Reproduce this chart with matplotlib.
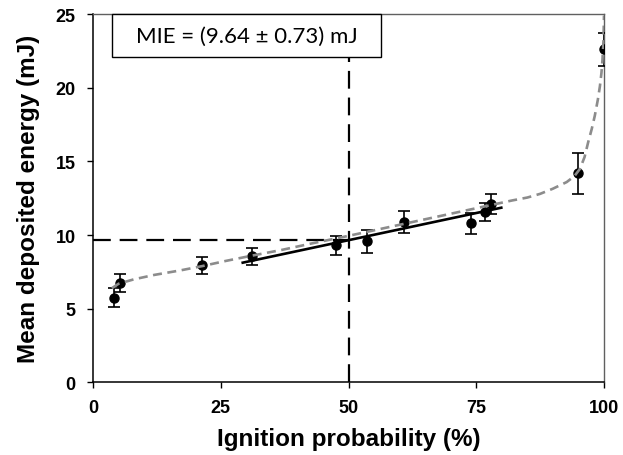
import matplotlib
matplotlib.use("Agg")
import matplotlib.pyplot as plt
from matplotlib.patches import Rectangle

# measured points
prob = [4.1, 5.2, 21.4, 31.2, 47.6, 53.7, 60.8, 73.9, 76.8, 77.8, 95.0, 100.0]
energy = [5.75, 6.75, 7.95, 8.55, 9.3, 9.6, 10.9, 10.8, 11.55, 12.1, 14.2, 22.6]
err = [0.65, 0.6, 0.56, 0.6, 0.65, 0.78, 0.73, 0.73, 0.62, 0.68, 1.39, 1.1]

# linear fit line (endpoints)
fit_x = [29.3, 79.9]
fit_y = [8.13, 11.86]

# gray dashed fitted curve
curve_x = [3.7, 5, 8, 12, 17, 21.4, 26, 31, 37, 43, 50, 56, 62, 68, 74, 78,
           82, 85, 87.5, 90, 92.7, 94.2, 95.3, 96.2, 96.9, 97.6, 98.2, 98.8,
           99.2, 99.5, 99.7, 99.9, 100]
curve_y = [6.4, 6.7, 7.0, 7.3, 7.6, 7.9, 8.25, 8.6, 9.0, 9.45, 9.95, 10.4,
           10.85, 11.3, 11.75, 12.05, 12.35, 12.55, 12.8, 13.15, 13.6, 14.0,
           14.5, 15.3, 16.3, 17.2, 18.1, 19.2, 20.1, 21.0, 21.9, 23.2, 24.9]

mie = 9.64
mie_p = 50
box_x0, box_x1 = 3.7, 56.4
box_y0, box_y1 = 22.1, 25.0
label_text = "MIE = (9.64 ± 0.73) mJ"
xticks = [0, 25, 50, 75, 100]
yticks = [0, 5, 10, 15, 20, 25]

fig = plt.figure(figsize=(6.23, 4.56), dpi=100)
ax = fig.add_axes([0.1493, 0.159, 0.8202, 0.808])

# MIE dashed guides
ax.plot([0, mie_p], [mie, mie], color="black", lw=1.6, dashes=(8, 4), zorder=2)
ax.plot([mie_p, mie_p], [0, box_y0], color="black", lw=1.6, dashes=(8, 4), zorder=2)

# fit line
ax.plot(fit_x, fit_y, color="black", lw=1.9, zorder=3)

# data with error bars
ax.errorbar(prob, energy, yerr=err, fmt="o", color="black", ms=6.5,
            ecolor="black", elinewidth=1.2, capsize=4.5, capthick=1.2, zorder=4)

# fitted curve
ax.plot(curve_x, curve_y, color="#8c8c8c", lw=1.9, dashes=(3.4, 2.1), zorder=5)

# MIE box
ax.add_patch(Rectangle((box_x0, box_y0), box_x1 - box_x0, box_y1 - box_y0,
                       fc="white", ec="black", lw=1.0, zorder=6, clip_on=False))
ax.text((box_x0 + box_x1) / 2, (box_y0 + box_y1) / 2, label_text, fontsize=16,
        family="Lato", ha="center", va="center", zorder=7)

ax.set_xlim(0, 100)
ax.set_ylim(0, 25)
ax.set_xticks(xticks)
ax.set_yticks(yticks)
for lbl in ax.get_xticklabels() + ax.get_yticklabels():
    lbl.set_fontweight("bold")
    lbl.set_family("Liberation Sans")
    lbl.set_fontsize(13)
ax.tick_params(axis="x", direction="out", length=4, width=1, colors="black", pad=8)
ax.tick_params(axis="y", direction="out", length=4.5, width=1, colors="black", pad=8)

for s in ["left", "bottom"]:
    ax.spines[s].set_color("black")
    ax.spines[s].set_linewidth(1.1)
for s in ["top", "right"]:
    ax.spines[s].set_color("#606060")
    ax.spines[s].set_linewidth(1.0)

ax.set_xlabel("Ignition probability (%)", fontsize=17.5, fontweight="bold",
              family="Liberation Sans", labelpad=8)
ax.set_ylabel("Mean deposited energy (mJ)", fontsize=17.5, fontweight="bold",
              family="Liberation Sans", labelpad=11)

fig.savefig("out.png", dpi=100)
